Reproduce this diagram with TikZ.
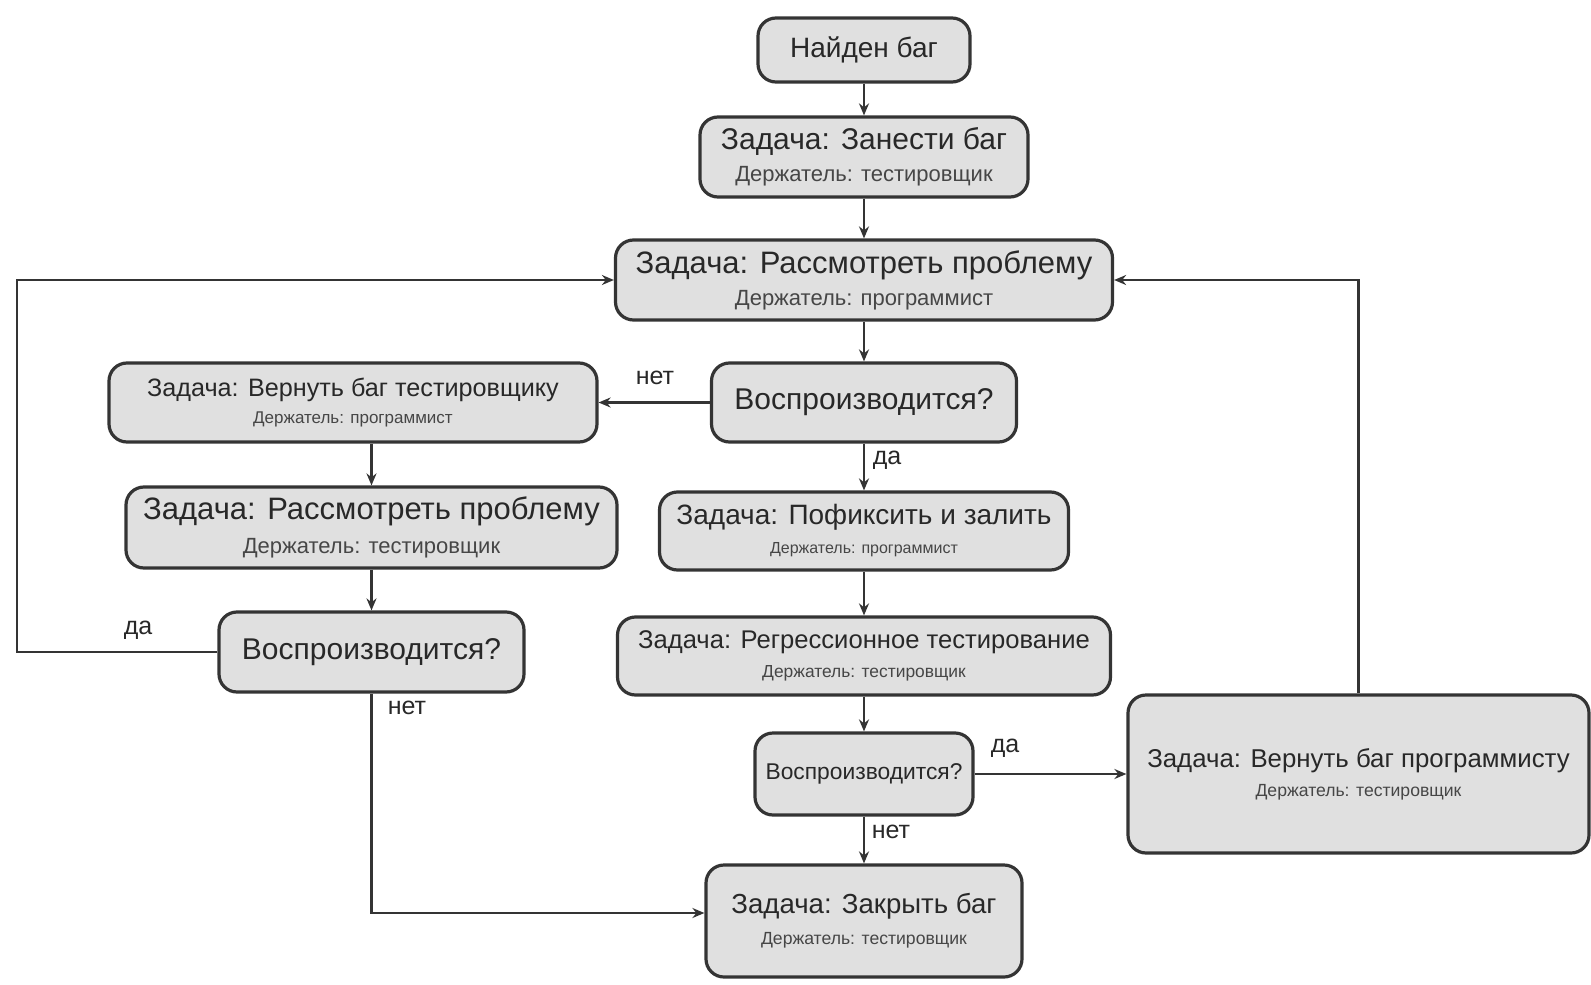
\documentclass[tikz,border=0pt]{standalone}
\usepackage{fontspec}
\setmainfont{Liberation Sans}
\usetikzlibrary{arrows.meta}
\definecolor{boxfill}{RGB}{224,224,224}
\definecolor{linec}{RGB}{52,52,52}
\definecolor{textc}{RGB}{40,40,40}
\definecolor{subc}{RGB}{70,70,70}
\newcommand{\ttl}[2]{\fontsize{#1}{#1}\selectfont #2}
\newcommand{\sbt}[2]{\color{subc}\fontsize{#1}{#1}\selectfont #2}
\tikzset{
  box/.style={draw=linec, fill=boxfill, line width=1.6pt, rounded corners=9pt,
    align=center, inner sep=0pt, text=textc},
  bskip/.style={font=\fontsize{10}{#1}\selectfont},
  conn/.style={draw=linec, line width=1.4pt, -{Stealth[length=6pt,width=5pt]}},
  plain/.style={draw=linec, line width=1.4pt},
  lbl/.style={text=textc, font=\fontsize{12.5}{14}\selectfont, inner sep=0pt}
}
\begin{document}
\begin{tikzpicture}[x=0.5pt,y=-0.5pt]
\useasboundingbox (0,0) rectangle (1591,985);
% nodes
\node[box, minimum width=106pt, minimum height=32pt] (found) at (864,50)
  {\ttl{14}{Найден баг}};
\node[box, bskip=16, minimum width=164pt, minimum height=40pt] (enter) at (864,157)
  {\ttl{15}{Задача: Занести баг}\\\sbt{11}{Держатель: тестировщик}};
\node[box, bskip=16, minimum width=248.5pt, minimum height=40pt] (review1) at (864,280)
  {\ttl{15.5}{Задача: Рассмотреть проблему}\\\sbt{11}{Держатель: программист}};
\node[box, minimum width=152.5pt, minimum height=39.5pt] (repro1) at (864,402.5)
  {\ttl{15}{Воспроизводится?}};
\node[box, bskip=13.5, minimum width=244pt, minimum height=39.5pt] (retT) at (353,402.5)
  {\ttl{12.6}{Задача: Вернуть баг тестировщику}\\\sbt{8.5}{Держатель: программист}};
\node[box, bskip=17, minimum width=245.5pt, minimum height=40.5pt] (review2) at (371.5,527.5)
  {\ttl{15.5}{Задача: Рассмотреть проблему}\\\sbt{11}{Держатель: тестировщик}};
\node[box, minimum width=152.5pt, minimum height=40pt] (repro2) at (371.5,652)
  {\ttl{15}{Воспроизводится?}};
\node[box, bskip=14.5, minimum width=204.5pt, minimum height=39pt] (fix) at (864,531)
  {\ttl{14}{Задача: Пофиксить и залить}\\\sbt{8}{Держатель: программист}};
\node[box, bskip=14.5, minimum width=246.5pt, minimum height=39pt] (regress) at (864,656)
  {\ttl{12.8}{Задача: Регрессионное тестирование}\\\sbt{8.7}{Держатель: тестировщик}};
\node[box, minimum width=109pt, minimum height=41pt] (repro3) at (864,774)
  {\ttl{11.4}{Воспроизводится?}};
\node[box, bskip=14.5, minimum width=230.5pt, minimum height=79pt] (retP) at (1358.5,774)
  {\ttl{12.9}{Задача: Вернуть баг программисту}\\\sbt{8.8}{Держатель: тестировщик}};
\node[box, bskip=15.5, minimum width=158pt, minimum height=56pt] (close) at (864,921)
  {\ttl{13.8}{Задача: Закрыть баг}\\\sbt{8.8}{Держатель: тестировщик}};
\coordinate (lx) at (17,0);
% connectors
\draw[conn] (found) -- (enter);
\draw[conn] (enter) -- (review1);
\draw[conn] (review1) -- (repro1);
\draw[conn] (repro1) -- (fix);
\draw[conn] (fix) -- (regress);
\draw[conn] (regress) -- (repro3);
\draw[conn] (repro3) -- (close);
\draw[conn] (repro1) -- (retT);
\draw[conn] (review2.north |- retT.south) -- (review2.north);
\draw[conn] (review2) -- (repro2);
\draw[conn] (repro2.south) |- ([yshift=4pt]close.west);
\draw[conn] (repro2.west) -- (repro2.west -| lx) |- (review1.west);
\draw[conn] (repro3) -- (retP);
\draw[conn] (retP.north) |- (review1.east);
% labels
\node[lbl] (l1) at (655,378) {нет};
\node[lbl] (l2) at (887,460) {да};
\node[lbl] (l3) at (1005,748) {да};
\node[lbl] (l4) at (891,832) {нет};
\node[lbl] (l5) at (138,630) {да};
\node[lbl] (l6) at (407,708) {нет};
\end{tikzpicture}
\end{document}
